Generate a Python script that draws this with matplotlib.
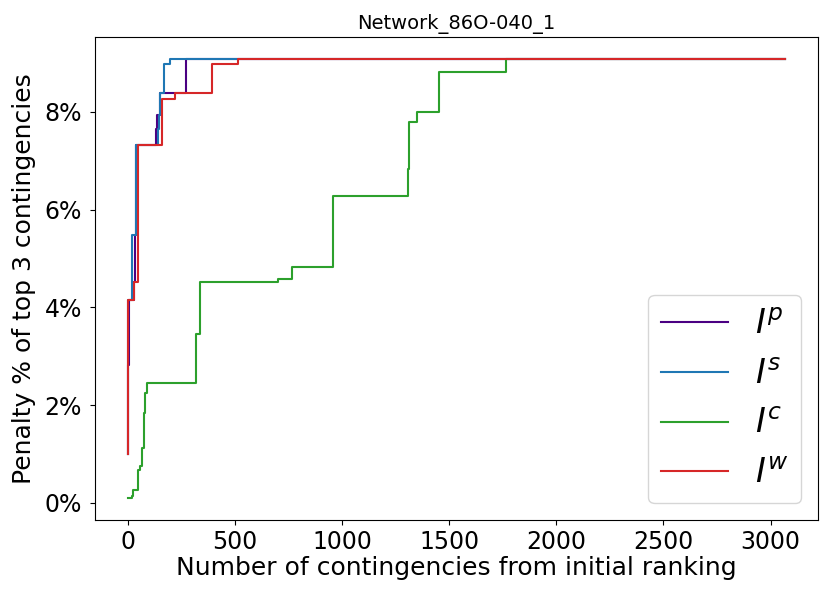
import matplotlib
matplotlib.use('Agg')
import matplotlib.pyplot as plt
from matplotlib.ticker import PercentFormatter

# step data: x = number of contingencies, y = penalty %
x_p = [1, 3, 5, 28, 32, 40, 132, 138, 150, 274, 3068]
y_p = [1.01, 2.83, 4.15, 4.51, 5.48, 7.32, 7.65, 7.93, 8.38, 9.08, 9.08]

x_s = [1, 3, 20, 38, 142, 145, 152, 170, 196, 3068]
y_s = [1.01, 4.15, 5.48, 7.32, 7.65, 7.93, 8.38, 8.97, 9.08, 9.08]

x_c = [1, 20, 27, 49, 58, 69, 77, 81, 88, 317, 337, 702, 767, 956, 1306, 1311,
       1348, 1452, 1767, 3068]
y_c = [0.10, 0.15, 0.27, 0.68, 0.75, 1.12, 1.84, 2.25, 2.45, 3.46, 4.51, 4.58,
       4.83, 6.28, 6.84, 7.79, 8.00, 8.81, 9.08, 9.08]

x_w = [1, 3, 30, 46, 49, 159, 221, 392, 514, 3068]
y_w = [1.01, 4.15, 4.51, 5.48, 7.32, 8.27, 8.38, 8.97, 9.08, 9.08]

fig = plt.figure(figsize=(8.3, 5.99), dpi=100)
ax = fig.add_axes([0.1145, 0.132, 0.871, 0.806])

ax.step(x_p, y_p, where='post', color='indigo', label='$I^p$')
ax.step(x_s, y_s, where='post', color='#1f77b4', label='$I^s$')
ax.step(x_c, y_c, where='post', color='#2ca02c', label='$I^c$')
ax.step(x_w, y_w, where='post', color='#d62728', label='$I^w$')

ax.yaxis.set_major_formatter(PercentFormatter(decimals=0))
ax.set_yticks([0, 2, 4, 6, 8])
ax.set_xticks([0, 500, 1000, 1500, 2000, 2500, 3000])
ax.tick_params(labelsize=17)
ax.tick_params(axis='y', pad=6)

ax.set_title('Network_86O-040_1', fontsize=14)
ax.set_xlabel('Number of contingencies from initial ranking', fontsize=18, labelpad=2)
ax.set_ylabel('Penalty % of top 3 contingencies', fontsize=18, labelpad=6)
ax.legend(loc='lower right', fontsize=24)

fig.savefig('out.png', dpi=100)
